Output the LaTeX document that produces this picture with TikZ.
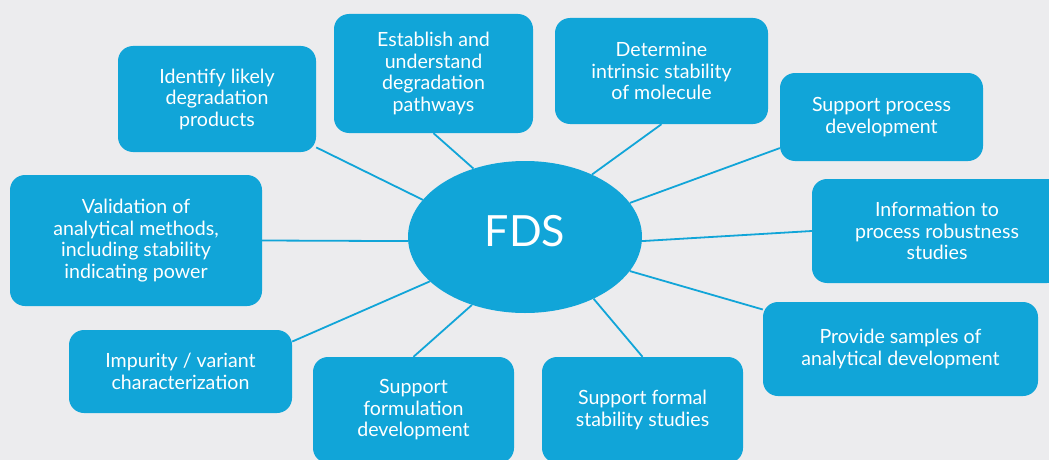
\documentclass[tikz,border=0pt]{standalone}
\usepackage{fontspec}
\setmainfont{Lato}
\usetikzlibrary{shapes.geometric}
\definecolor{fdsblue}{RGB}{17,165,216}
\definecolor{bggray}{RGB}{236,236,238}
\pgfdeclarelayer{back}
\pgfdeclarelayer{lines}
\pgfsetlayers{back,lines,main}
\begin{document}
\begin{tikzpicture}[x=1pt,y=-1pt,
  box/.style={fill=fdsblue, rounded corners=15pt, text=white, align=center,
    font=\fontsize{19.6}{21.5}\selectfont, inner sep=0pt},
  link/.style={draw=fdsblue, line width=1.8pt}]
\useasboundingbox (0,0) rectangle (1049,460);
\begin{pgfonlayer}{back}
\fill[bggray] (0,0) rectangle (1049,460);
\end{pgfonlayer}
\clip (0,0) rectangle (1049,460);

\node[ellipse, fill=fdsblue, minimum width=234pt, minimum height=152pt, inner sep=0pt,
  text=white, font=\fontsize{43}{43}\selectfont, text depth=12pt] (fds) at (525,237) {FDS};

\node[box, minimum width=198pt, minimum height=106pt] (b1) at (217,99) {Identify likely\\degradation\\products};
\node[box, minimum width=199pt, minimum height=119pt] (b2) at (433.5,73.5) {Establish and\\understand\\degradation\\pathways};
\node[box, minimum width=213pt, minimum height=106pt] (b3) at (661.5,71) {Determine\\intrinsic stability\\of molecule};
\node[box, minimum width=203pt, minimum height=88pt] (b4) at (881.5,117) {Support process\\development};
\node[box, minimum width=250pt, minimum height=104pt] (b5) at (937,231) {Information to\\process robustness\\studies};
\node[box, minimum width=275pt, minimum height=94pt] (b6) at (900.5,349) {Provide samples of\\analytical development};
\node[box, minimum width=201pt, minimum height=106pt] (b7) at (642.5,410) {Support formal\\stability studies};
\node[box, minimum width=201pt, minimum height=106pt] (b8) at (413.5,410) {Support\\formulation\\development};
\node[box, minimum width=223pt, minimum height=83pt] (b9) at (180.5,371.5) {Impurity / variant\\characterization};
\node[box, minimum width=252pt, minimum height=131pt] (b10) at (136,240.5) {Validation of\\analytical methods,\\including stability\\indicating power};

\begin{pgfonlayer}{lines}
\draw[link] (fds.160.2) -- (b1.-26);
\draw[link] (fds.127.5) -- (b2.south);
\draw[link] (fds.43.3) -- (b3.south);
\draw[link] (fds.18.6) -- (b4.197);
\draw[link] (fds.-2) -- (b5.west);
\draw[link] (fds.-18.1) -- (b6.164.5);
\draw[link] (fds.-42.8) -- (b7.north);
\draw[link] (fds.232.9) -- (b8.north);
\draw[link] (fds.205.8) -- (b9.15);
\draw[link] (fds.182) -- (b10.east);
\end{pgfonlayer}
\end{tikzpicture}
\end{document}
